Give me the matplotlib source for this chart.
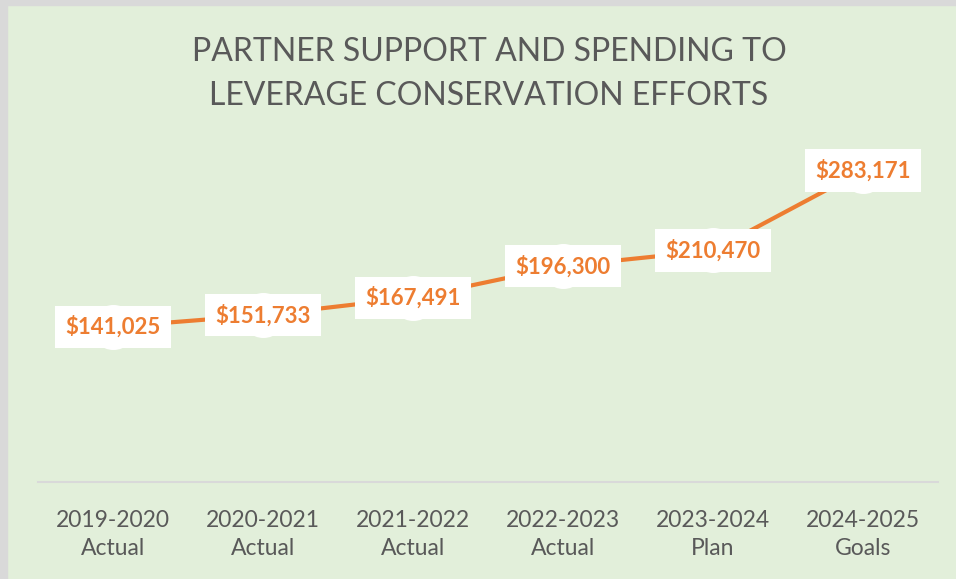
import matplotlib
matplotlib.use("Agg")
import matplotlib.pyplot as plt
from matplotlib.patches import Rectangle

categories = ["2019-2020\nActual", "2020-2021\nActual", "2021-2022\nActual",
              "2022-2023\nActual", "2023-2024\nPlan", "2024-2025\nGoals"]
values = [141025, 151733, 167491, 196300, 210470, 283171]
labels = ["$141,025", "$151,733", "$167,491", "$196,300", "$210,470", "$283,171"]

plt.rcParams['font.family'] = ['Lato', 'DejaVu Sans']
bg = "#E2EFDA"
orange = "#ED7D31"
gray = "#595959"

fig = plt.figure(figsize=(9.56, 5.79), dpi=100)
fig.patch.set_facecolor(bg)
# border on top and left
fig.add_artist(Rectangle((0, 0), 7/956, 1, transform=fig.transFigure, color="#D9D9D9", zorder=10))
fig.add_artist(Rectangle((0, 1-5/579), 1, 5/579, transform=fig.transFigure, color="#D9D9D9", zorder=10))

ax = fig.add_axes([38/956, 1-482/579, 900/956, 330/579])
ax.set_facecolor(bg)
x = list(range(len(values)))
ax.plot(x, values, color=orange, lw=3, zorder=2)
ax.scatter(x, values, s=1050, color="white", zorder=3, linewidths=0)
for xi, v, lab in zip(x, values, labels):
    ax.text(xi, v, lab, ha="center", va="center", color=orange, fontsize=16,
            fontweight="bold", zorder=4,
            bbox=dict(boxstyle="square,pad=0.45", fc="white", ec="none"))

ax.set_xlim(-0.5, len(values)-0.5)
ax.set_ylim(0, 300000)
ax.set_yticks([])
ax.set_xticks(x)
ax.set_xticklabels(categories, fontsize=16.5, color=gray, linespacing=1.4)
ax.tick_params(axis="x", length=0, pad=20)
for s in ["top", "right", "left"]:
    ax.spines[s].set_visible(False)
ax.spines["bottom"].set_color("#D9D9D9")
ax.spines["bottom"].set_linewidth(1.5)

fig.text(489/956, 1-74/579, "PARTNER SUPPORT AND SPENDING TO\nLEVERAGE CONSERVATION EFFORTS",
         ha="center", va="center", fontsize=23, color=gray, linespacing=1.6)

fig.savefig("out.png", dpi=100, facecolor=bg)
